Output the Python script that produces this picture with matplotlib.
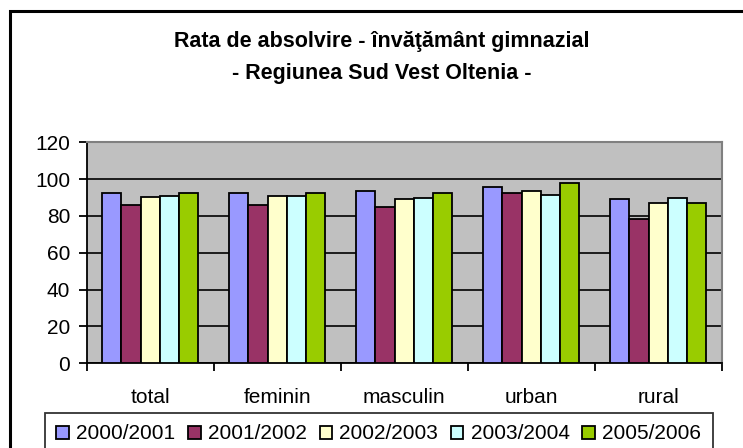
import numpy as np
import matplotlib
matplotlib.use("Agg")
import matplotlib.pyplot as plt
from matplotlib.patches import Rectangle

plt.rcParams['font.family'] = ['Liberation Sans', 'DejaVu Sans']

categories = ['total', 'feminin', 'masculin', 'urban', 'rural']
years = ['2000/2001', '2001/2002', '2002/2003', '2003/2004', '2005/2006']
v2000 = [92.4, 92.4, 93.5, 95.5, 89.1]
v2001 = [85.8, 85.8, 84.7, 92.4, 78.5]
v2002 = [90.2, 91.1, 89.1, 93.5, 86.9]
v2003 = [91.1, 91.1, 90.0, 91.3, 90.0]
v2005 = [92.4, 92.6, 92.4, 97.8, 86.9]
series = [v2000, v2001, v2002, v2003, v2005]
colors = ['#9999FF', '#993366', '#FFFFCC', '#CCFFFF', '#99CC00']

fig = plt.figure(figsize=(7.43, 4.48), dpi=100)
ax = fig.add_axes([86.7/743, (448-363.3)/448, (721.7-86.7)/743, (363.3-142.3)/448])

# chart area border (runs off the right/bottom edge in the original)
fig.patches.append(Rectangle((10/743, -0.5), 2.0, 0.5 + (448-11)/448, transform=fig.transFigure,
                             fill=False, edgecolor='black', linewidth=2.2, zorder=0))

x = np.arange(len(categories))
bw = 0.151
for i, (vals, c, lab) in enumerate(zip(series, colors, years)):
    ax.bar(x + (i - 2) * bw, vals, bw, color=c, edgecolor='black', linewidth=1.3, label=lab, zorder=3)

ax.set_facecolor('#C0C0C0')
ax.set_xlim(-0.5, 4.5)
ax.set_ylim(0, 120)
ax.set_yticks(np.arange(0, 121, 20))
ax.yaxis.grid(True, color='black', linewidth=1.2, zorder=1)
ax.set_axisbelow(True)

ax.set_xticks(np.arange(-0.5, 5, 1))
ax.set_xticklabels([])
ax.set_xticks(x, minor=True)
ax.set_xticklabels(categories, minor=True)
ax.tick_params(axis='x', which='major', length=6, width=1.3, direction='out')
ax.tick_params(axis='x', which='minor', length=0, pad=17.5, labelsize=15)
ax.tick_params(axis='y', length=6, width=1.3, direction='out', pad=6, labelsize=15)

for s in ['left', 'bottom']:
    ax.spines[s].set_color('black')
    ax.spines[s].set_linewidth(1.3)
for s in ['top', 'right']:
    ax.spines[s].set_color('#808080')
    ax.spines[s].set_linewidth(1.5)

fig.text(0.514, 1 - 41/448, 'Rata de absolvire - învăţământ gimnazial', ha='center', va='center',
         fontsize=15.5, fontweight='bold')
fig.text(0.514, 1 - 73/448, '- Regiunea Sud Vest Oltenia -', ha='center', va='center',
         fontsize=15.5, fontweight='bold')

leg = fig.legend(loc='upper left', bbox_to_anchor=(45/743, 1 - 413/448, (712.7-45)/743, 0.0),
                 mode='expand', ncol=5, fontsize=15, frameon=True, fancybox=False,
                 handlelength=0.6, handleheight=0.6, handletextpad=0.35, borderpad=0.55,
                 columnspacing=0.4, borderaxespad=0)
leg.get_frame().set_edgecolor('black')
leg.get_frame().set_linewidth(1.3)

fig.savefig('out.png', dpi=100)
